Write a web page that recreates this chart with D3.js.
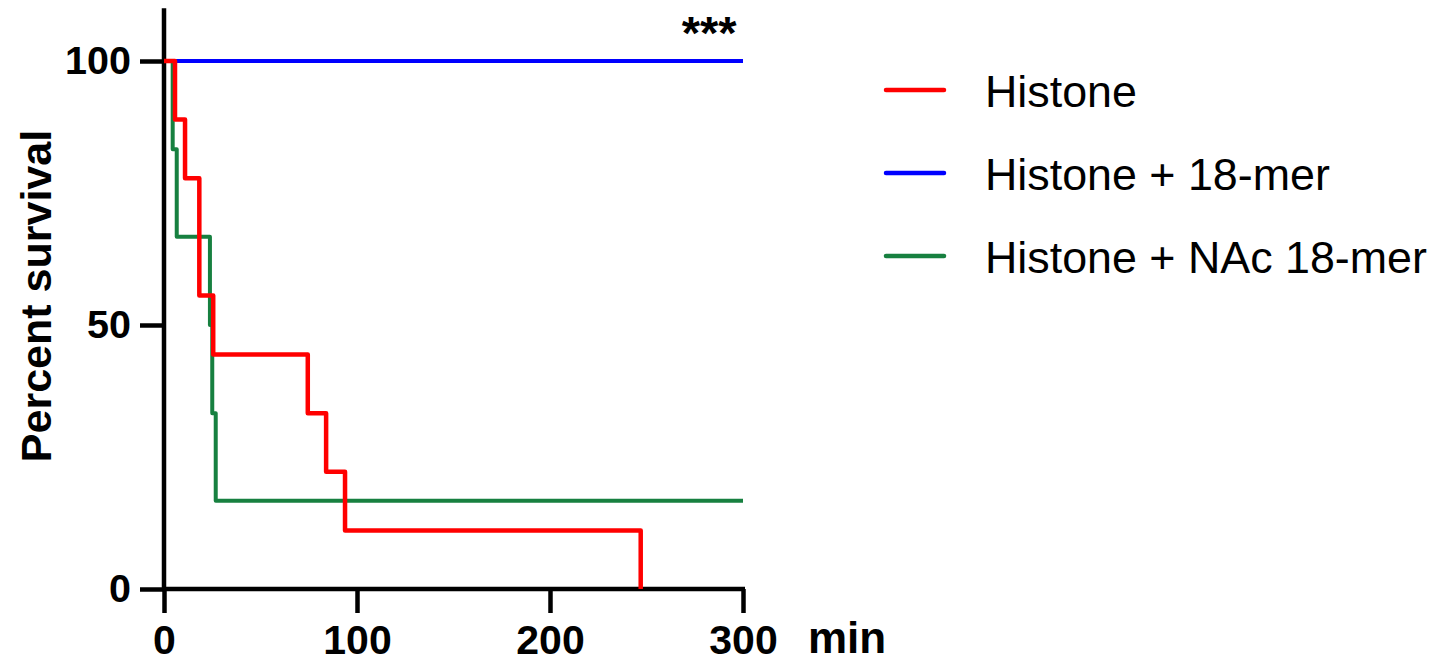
<!DOCTYPE html>
<html>
<head>
<meta charset="utf-8">
<script src="https://cdn.jsdelivr.net/npm/d3@7"></script>
<style>
  body { margin: 0; background: #fff; }
  text { font-family: "Liberation Sans", Arial, sans-serif; }
</style>
</head>
<body>
<div id="container"></div>
<script>
// Kaplan-Meier steps (time in min, percent survival)
const histoneTimes = [0, 5.7, 10.9, 18.3, 25.5, 74.5, 84, 93.8, 247];
const histoneSurvival = [100, 88.9, 77.8, 55.6, 44.4, 33.3, 22.2, 11.1, 0];

const peptideTimes = [0, 300];
const peptideSurvival = [100, 100];

const nacTimes = [0, 4.5, 6.6, 23.8, 25, 26.8, 300];
const nacSurvival = [100, 83.3, 66.7, 50, 33.3, 16.7, 16.7];

const seriesNames = ["Histone", "Histone + 18-mer", "Histone + NAc 18-mer"];
const seriesColors = ["#ff0000", "#0000ff", "#178040"];

const xTicks = [0, 100, 200, 300];
const yTicks = [0, 50, 100];

const width = 1445, height = 662;

const x = d3.scaleLinear().domain([0, 300]).range([164, 743]);
const y = d3.scaleLinear().domain([0, 100]).range([589, 61]);

const svg = d3.select("#container")
  .append("svg")
  .attr("width", width)
  .attr("height", height)
  .attr("viewBox", [0, 0, width, height]);

// axes
const yAxis = svg.append("g")
  .attr("transform", `translate(${x(0)},0)`)
  .call(d3.axisLeft(y).tickValues(yTicks).tickSize(24).tickPadding(9).tickSizeOuter(0));

const xAxis = svg.append("g")
  .attr("transform", `translate(0,${y(0)})`)
  .call(d3.axisBottom(x).tickValues(xTicks).tickSize(24).tickPadding(12).tickSizeOuter(0));

[xAxis, yAxis].forEach(function(ax, i) {
  ax.select(".domain").remove();
  ax.selectAll(".tick line").attr("stroke", "#000").attr("stroke-width", 4.5);
  ax.selectAll(".tick text")
    .attr("fill", "#000")
    .attr("font-size", i === 0 ? 41 : 39.5)
    .attr("font-weight", "bold")
    .attr("font-family", '"Liberation Sans", Arial, sans-serif');
});

// axis lines (y line runs a bit above 100)
svg.append("line")
  .attr("x1", x(0)).attr("x2", x(0))
  .attr("y1", y(0)).attr("y2", y(110))
  .attr("stroke", "#000").attr("stroke-width", 4.5);

svg.append("line")
  .attr("x1", x(0) - 2).attr("x2", x(300) + 2)
  .attr("y1", y(0)).attr("y2", y(0))
  .attr("stroke", "#000").attr("stroke-width", 4.5);

svg.append("text")
  .attr("x", 808)
  .attr("y", 653)
  .attr("font-size", 44)
  .attr("font-weight", "bold")
  .text("min");

svg.append("text")
  .attr("transform", `translate(51,${y(50) - 29}) rotate(-90)`)
  .attr("text-anchor", "middle")
  .attr("font-size", 43)
  .attr("font-weight", "bold")
  .text("Percent survival");

// survival curves
const step = d3.line()
  .x((d) => x(d[0]))
  .y((d) => y(d[1]))
  .curve(d3.curveStepAfter);

const series = [
  { name: seriesNames[1], color: seriesColors[1], width: 4, pts: d3.zip(peptideTimes, peptideSurvival) },
  { name: seriesNames[2], color: seriesColors[2], width: 4, pts: d3.zip(nacTimes, nacSurvival) },
  { name: seriesNames[0], color: seriesColors[0], width: 4.5, pts: d3.zip(histoneTimes, histoneSurvival) }
];

svg.append("g")
  .selectAll("path")
  .data(series)
  .join("path")
  .attr("fill", "none")
  .attr("stroke", (d) => d.color)
  .attr("stroke-width", (d) => d.width)
  .attr("stroke-linejoin", "round")
  .attr("d", (d) => step(d.pts));

svg.append("text")
  .attr("x", x(282.5))
  .attr("y", 49)
  .attr("text-anchor", "middle")
  .attr("font-size", 47)
  .attr("font-weight", "bold")
  .text("***");

// legend
const legend = svg.append("g")
  .selectAll("g")
  .data(seriesNames)
  .join("g")
  .attr("transform", (d, i) => `translate(886,${90 + i * 83})`);

legend.append("line")
  .attr("x1", 0).attr("x2", 58)
  .attr("stroke", (d, i) => seriesColors[i])
  .attr("stroke-width", 4.5)
  .attr("stroke-linecap", "round");

legend.append("text")
  .attr("x", 99)
  .attr("y", 17)
  .attr("font-size", 44.8)
  .text((d) => d);
</script>
</body>
</html>
